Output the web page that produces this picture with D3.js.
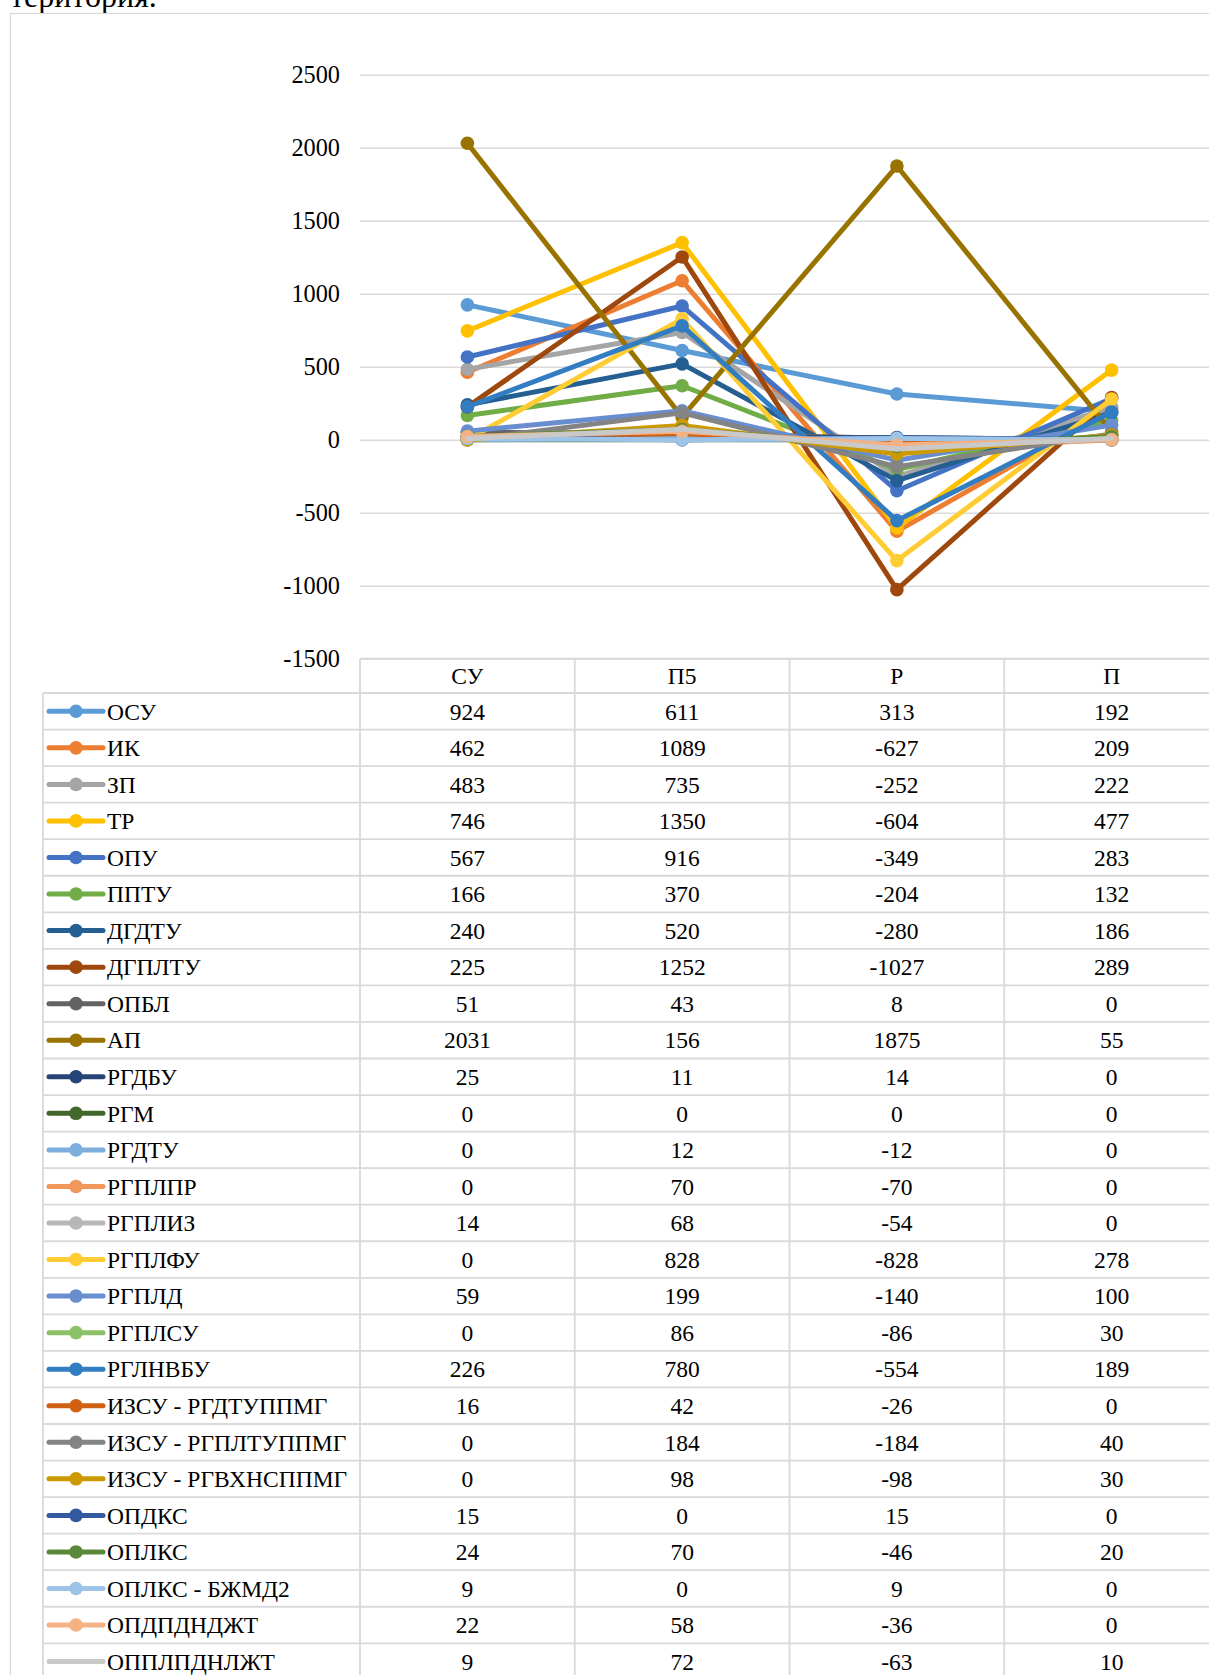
<!DOCTYPE html>
<html>
<head>
<meta charset="utf-8">
<script src="https://cdn.jsdelivr.net/npm/d3@7"></script>
<style>
  html, body { margin: 0; padding: 0; background: #fff; }
  svg { display: block; }
  text { font-family: "Liberation Serif", "Times New Roman", serif; fill: #000; }
</style>
</head>
<body>
<svg id="chart" width="1209" height="1675"></svg>
<script>
const categories = ["СУ", "П5", "Р", "П"];
const seriesNames = [
  "ОСУ", "ИК", "ЗП", "ТР", "ОПУ", "ППТУ", "ДГДТУ", "ДГПЛТУ", "ОПБЛ", "АП",
  "РГДБУ", "РГМ", "РГДТУ", "РГПЛПР", "РГПЛИЗ", "РГПЛФУ", "РГПЛД", "РГПЛСУ",
  "РГЛНВБУ", "ИЗСУ - РГДТУППМГ", "ИЗСУ - РГПЛТУППМГ", "ИЗСУ - РГВХНСППМГ",
  "ОПДКС", "ОПЛКС", "ОПЛКС - БЖМД2", "ОПДПДНДЖТ", "ОППЛПДНЛЖТ"
];
const seriesValues = [
  [924, 611, 313, 192],
  [462, 1089, -627, 209],
  [483, 735, -252, 222],
  [746, 1350, -604, 477],
  [567, 916, -349, 283],
  [166, 370, -204, 132],
  [240, 520, -280, 186],
  [225, 1252, -1027, 289],
  [51, 43, 8, 0],
  [2031, 156, 1875, 55],
  [25, 11, 14, 0],
  [0, 0, 0, 0],
  [0, 12, -12, 0],
  [0, 70, -70, 0],
  [14, 68, -54, 0],
  [0, 828, -828, 278],
  [59, 199, -140, 100],
  [0, 86, -86, 30],
  [226, 780, -554, 189],
  [16, 42, -26, 0],
  [0, 184, -184, 40],
  [0, 98, -98, 30],
  [15, 0, 15, 0],
  [24, 70, -46, 20],
  [9, 0, 9, 0],
  [22, 58, -36, 0],
  [9, 72, -63, 10]
];
const seriesColors = [
  "#5B9BD5", "#ED7D31", "#A5A5A5", "#FFC000", "#4472C4", "#70AD47", "#255E91",
  "#9E480E", "#636363", "#997300", "#264478", "#43682B", "#7CAFDD", "#F1975A",
  "#B7B7B7", "#FFCD33", "#698ED0", "#8CC168", "#327DC2", "#D26012", "#848484",
  "#CC9A00", "#335AA1", "#5A8A39", "#9DC3E6", "#F4B183", "#C9C9C9"
];
const seriesWithoutMarkers = ["ОППЛПДНЛЖТ"];
const yTickValues = [2500, 2000, 1500, 1000, 500, 0, -500, -1000, -1500];
const headingText = "територия.";

const SERIF = '"Liberation Serif", "Times New Roman", serif';
const svg = d3.select("#chart");
const FONT = 23.5;
const GRID = "#d9d9d9";

const x = d3.scaleBand().domain(categories).range([360, 1219]).padding(0);
const y = d3.scaleLinear().domain([-1500, 2500]).range([658.7, 74.8]);
const headerTop = y(-1500), headerBottom = 693;
const rowH = 36.55;
const row = d3.scaleBand().domain(seriesNames)
  .range([headerBottom, headerBottom + rowH * seriesNames.length]).padding(0);
const tableLeft = 43, legendRight = x.range()[0], tableRight = x.range()[1];
const tableBottom = row.range()[1];

// heading text fragment (cut at top, as in the source page)
svg.append("text").attr("x", 10).attr("y", 7)
  .attr("font-size", 32).style("font-family", SERIF).text(headingText);

// chart border
svg.append("rect").attr("x", 10.5).attr("y", 13.5)
  .attr("width", 1300).attr("height", 1800)
  .attr("fill", "none").attr("stroke", GRID).attr("stroke-width", 1.2);

// gridlines
const grid = svg.append("g").attr("transform", `translate(${legendRight},0)`)
  .call(d3.axisLeft(y).tickValues(yTickValues).tickSize(-(tableRight - legendRight)).tickFormat(""));
grid.select(".domain").remove();
grid.selectAll(".tick line").attr("stroke", GRID).attr("stroke-width", 1.6);

// y labels
const yAxis = svg.append("g").attr("transform", "translate(340,0)")
  .call(d3.axisLeft(y).tickValues(yTickValues).tickSize(0).tickPadding(0).tickFormat(d => String(d)));
yAxis.attr("font-family", null).attr("font-size", null);
yAxis.select(".domain").remove();
yAxis.selectAll("text").attr("font-size", 24.3)
  .style("font-family", SERIF).attr("fill", "#000");

// table lines
const tbl = svg.append("g").attr("stroke", GRID).attr("stroke-width", 1.8);
tbl.append("line").attr("x1", legendRight).attr("x2", tableRight)
  .attr("y1", headerTop).attr("y2", headerTop);
tbl.selectAll("line.h").data(seriesNames).enter().append("line")
  .attr("x1", tableLeft).attr("x2", tableRight)
  .attr("y1", d => row(d)).attr("y2", d => row(d));
tbl.append("line").attr("x1", tableLeft).attr("x2", tableRight)
  .attr("y1", tableBottom).attr("y2", tableBottom);
tbl.append("line").attr("x1", tableLeft).attr("x2", tableLeft)
  .attr("y1", headerBottom).attr("y2", tableBottom);
tbl.selectAll("line.v").data(categories).enter().append("line")
  .attr("x1", d => x(d)).attr("x2", d => x(d))
  .attr("y1", headerTop).attr("y2", tableBottom);

// header labels
svg.append("g").selectAll("text").data(categories).enter().append("text")
  .attr("x", d => x(d) + x.bandwidth() / 2)
  .attr("y", (headerTop + headerBottom) / 2).attr("dy", "0.35em")
  .attr("text-anchor", "middle").attr("font-size", FONT).text(d => d);

// table rows
const rows = svg.append("g").selectAll("g").data(seriesNames).enter().append("g")
  .attr("transform", d => `translate(0,${row(d) + rowH / 2})`);
rows.append("line").attr("x1", 49).attr("x2", 103).attr("y1", 0).attr("y2", 0)
  .attr("stroke", (d, i) => seriesColors[i]).attr("stroke-width", 5)
  .attr("stroke-linecap", "round");
rows.filter(d => !seriesWithoutMarkers.includes(d)).append("circle")
  .attr("cx", 76).attr("cy", 0).attr("r", 6.8)
  .attr("fill", d => seriesColors[seriesNames.indexOf(d)]);
rows.append("text").attr("x", 107).attr("dy", "0.35em")
  .attr("font-size", FONT).text(d => d);
rows.each(function (d, i) {
  d3.select(this).selectAll("text.v").data(seriesValues[i]).enter().append("text")
    .attr("x", (v, j) => x(categories[j]) + x.bandwidth() / 2)
    .attr("dy", "0.35em").attr("text-anchor", "middle")
    .attr("font-size", FONT).text(v => v);
});

// series lines and markers
const line = d3.line()
  .x((v, j) => x(categories[j]) + x.bandwidth() / 2)
  .y(v => y(v));
const plot = svg.append("g");
seriesNames.forEach((name, i) => {
  const g = plot.append("g");
  g.append("path").attr("d", line(seriesValues[i]))
    .attr("fill", "none").attr("stroke", seriesColors[i]).attr("stroke-width", 5)
    .attr("stroke-linejoin", "round").attr("stroke-linecap", "round");
  if (!seriesWithoutMarkers.includes(name)) {
    g.selectAll("circle").data(seriesValues[i]).enter().append("circle")
      .attr("cx", (v, j) => x(categories[j]) + x.bandwidth() / 2)
      .attr("cy", v => y(v)).attr("r", 6.8).attr("fill", seriesColors[i]);
  }
});
</script>
</body>
</html>
